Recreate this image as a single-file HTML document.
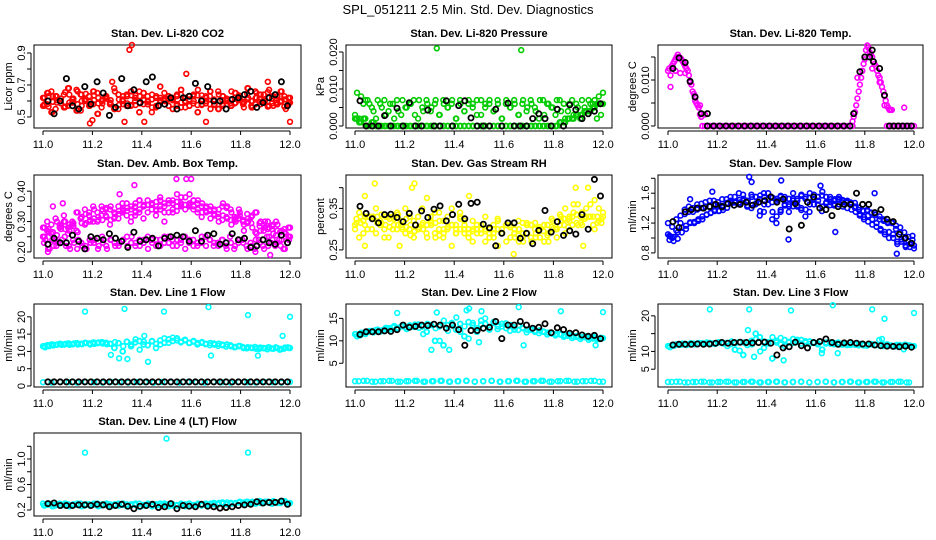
<!DOCTYPE html>
<html><head><meta charset="utf-8"><style>
body{margin:0;background:#fff}
svg{display:block;font-family:"Liberation Sans",sans-serif}
</style></head><body>
<svg id="chart" width="936" height="540" viewBox="0 0 936 540">
<text x="468" y="14" text-anchor="middle" font-size="13">SPL_051211  2.5 Min. Std. Dev. Diagnostics</text>
</svg>
<script>
// ---- data ----
const xTicks=[11.0,11.2,11.4,11.6,11.8,12.0];
const xTickLabels=["11.0","11.2","11.4","11.6","11.8","12.0"];
const panelTitles=["Stan. Dev. Li-820 CO2","Stan. Dev. Li-820 Pressure","Stan. Dev. Li-820 Temp.","Stan. Dev. Amb. Box Temp.","Stan. Dev. Gas Stream RH","Stan. Dev. Sample Flow","Stan. Dev. Line 1 Flow","Stan. Dev. Line 2 Flow","Stan. Dev. Line 3 Flow","Stan. Dev. Line 4 (LT) Flow"];
const yLabels=["Licor ppm","kPa","degrees C","degrees C","percent","ml/min","ml/min","ml/min","ml/min","ml/min"];

const co2A=[0.62,0.58,0.66,0.55,0.6,0.64,0.57,0.61,0.67,0.54,0.6,0.63,0.58,0.65,0.56,0.62,0.59,0.68,0.55,0.61,0.64,0.57,0.6,0.66,0.58,0.63,0.53,0.62,0.6,0.65,0.57,0.61,0.64,0.59,0.56,0.63,0.6,0.67,0.58,0.62,0.55,0.6,0.64,0.57,0.61,0.66,0.59,0.63,0.56,0.62,0.6,0.65,0.58,0.61,0.67,0.57,0.63,0.6,0.55,0.62];
const co2B=[0.57,0.65,0.53,0.63,0.6,0.56,0.68,0.59,0.54,0.64,0.61,0.57,0.66,0.52,0.6,0.63,0.58,0.55,0.64,0.6,0.57,0.66,0.62,0.53,0.65,0.58,0.61,0.56,0.69,0.6,0.63,0.55,0.58,0.67,0.62,0.57,0.64,0.53,0.61,0.6,0.66,0.58,0.55,0.63,0.6,0.57,0.65,0.61,0.59,0.68,0.56,0.62,0.64,0.6,0.57,0.63,0.58,0.66,0.61,0.59];
const co2OutX=[11.35,11.36,11.58,11.19,11.2,11.33,11.41,11.66,12.0,11.28,11.91];
const co2OutY=[0.92,0.95,0.77,0.46,0.48,0.47,0.47,0.47,0.47,0.72,0.72];
const co2Black=[0.6,0.52,0.6,0.74,0.57,0.55,0.69,0.58,0.72,0.65,0.51,0.56,0.74,0.57,0.67,0.59,0.72,0.75,0.57,0.58,0.62,0.55,0.62,0.63,0.71,0.6,0.69,0.6,0.6,0.55,0.61,0.62,0.64,0.66,0.56,0.59,0.62,0.64,0.72,0.57];

const presHigh=[0.003,0.002,0.006,0.007,0.005,0.002,0.006,0.007,0.004,0.006,0.007,0.003,0.005,0.006,0.007,0.002,0.005,0.007,0.004,0.006,0.003,0.007,0.005,0.006,0.002,0.007,0.004,0.006,0.005,0.007,0.003,0.006,0.007,0.004,0.006,0.002,0.007,0.005,0.006,0.003,0.007,0.005,0.006,0.004,0.007,0.003,0.006,0.005,0.007,0.004,0.002,0.006,0.003,0.005,0.007,0.004,0.006,0.007,0.008,0.009];
const presLow=[0.002,0.001,0.002,0,0.001,0,0,0,0,0,0,0,0,0,0,0,0,0,0,0,0,0,0,0,0,0,0,0,0,0,0,0,0,0,0,0,0,0,0,0,0,0,0,0,0,0,0,0,0,0.001,0.001,0.002,0.002,0.003,0.003,0.004,0.004,0.005,0.006,0.006];
const presOutX=[11.33,11.67];
const presOutY=[0.021,0.0205];
const presBlack=[0.0068,0,0,0,0.0028,0,0.0048,0,0.0063,0,0,0.0043,0,0,0.0068,0,0.0055,0.0068,0.0022,0,0,0,0.0045,0,0.0062,0,0,0,0.002,0.0033,0.002,0,0.0045,0,0.0057,0.0044,0.002,0.0033,0.004,0.006];

const tempX=[11.0,11.005,11.01,11.015,11.02,11.025,11.03,11.035,11.04,11.045,11.05,11.055,11.06,11.065,11.07,11.075,11.08,11.085,11.09,11.095,11.1,11.105,11.11,11.115,11.12,11.125,11.13,11.135,11.01,11.03,11.05,11.07,11.09,11.11,11.13,11.15,11.75,11.755,11.76,11.765,11.77,11.775,11.78,11.785,11.79,11.795,11.8,11.805,11.81,11.815,11.82,11.825,11.83,11.835,11.84,11.845,11.85,11.855,11.86,11.865,11.87,11.875,11.88,11.885,11.89,11.895,11.9,11.905,11.91,11.96,11.77,11.8,11.83,11.86,11.88];
const tempY=[0.012,0.0125,0.011,0.013,0.0135,0.014,0.0145,0.015,0.0155,0.015,0.0148,0.0145,0.014,0.0135,0.013,0.0125,0.012,0.011,0.0095,0.009,0.0075,0.007,0.0065,0.005,0.0045,0.004,0.0025,0.002,0.0085,0.012,0.0115,0.0115,0.0095,0.0055,0.0045,0.0025,0.001,0.002,0.003,0.0045,0.006,0.0075,0.009,0.0105,0.012,0.0135,0.015,0.0165,0.0175,0.017,0.016,0.0155,0.015,0.014,0.0135,0.013,0.012,0.011,0.0105,0.0095,0.0085,0.0075,0.0065,0.0055,0.0045,0.004,0.0035,0.0035,0.0035,0.004,0.0105,0.0145,0.0125,0.0095,0.0045];
const tempZeroA=[0,0,0,0,0,0,0,0,0,0,0,0,0,0,0,0,0,0,0,0,0,0,0,0,0,0,0,0,0,0,0,0,0,0,0,0,0,0,0,0,0,0,0,0,0,0,0,0,0,0,0,0,0,0,0,0,0,0,0,0];
const tempZeroB=[0,0,0,0,0,0,0,0,0,0,0,0];
const tempBlackX=[11.02,11.045,11.07,11.09,11.11,11.135,11.16,11.755,11.78,11.8,11.82,11.83,11.835,11.86,11.88];
const tempBlackY=[0.0125,0.0148,0.0138,0.0097,0.0063,0.0027,0.0027,0.0027,0.0118,0.015,0.015,0.0165,0.014,0.0125,0.0067];
const tempBlackZeroA=[0,0,0,0,0,0,0,0,0,0,0,0,0,0,0,0,0,0,0,0,0,0,0,0];
const tempBlackZeroB=[0,0,0,0,0,0];

const ambA=[0.28,0.3,0.26,0.31,0.29,0.32,0.28,0.3,0.33,0.31,0.34,0.32,0.3,0.33,0.35,0.32,0.34,0.31,0.35,0.33,0.36,0.34,0.32,0.37,0.35,0.33,0.36,0.34,0.38,0.35,0.37,0.36,0.39,0.35,0.38,0.36,0.37,0.34,0.36,0.33,0.35,0.32,0.34,0.36,0.31,0.33,0.3,0.32,0.29,0.31,0.28,0.33,0.27,0.3,0.28,0.26,0.29,0.27,0.25,0.28];
const ambB=[0.25,0.27,0.29,0.24,0.28,0.3,0.26,0.29,0.27,0.31,0.29,0.33,0.35,0.3,0.32,0.34,0.29,0.33,0.31,0.36,0.32,0.3,0.35,0.33,0.31,0.37,0.34,0.32,0.35,0.3,0.36,0.33,0.35,0.38,0.34,0.39,0.35,0.37,0.33,0.35,0.31,0.34,0.3,0.32,0.35,0.29,0.31,0.33,0.27,0.3,0.32,0.26,0.3,0.28,0.25,0.29,0.27,0.24,0.26,0.25];
const ambLow=[0.23,0.21,0.24,0.22,0.23,0.25,0.22,0.24,0.21,0.23,0.22,0.24,0.23,0.21,0.25,0.22,0.24,0.23,0.22,0.24,0.25,0.23,0.22,0.24,0.23,0.25,0.24,0.22,0.24,0.23,0.25,0.22,0.24,0.23,0.21,0.24,0.22,0.23,0.25,0.22,0.24,0.23,0.22,0.24,0.21,0.23,0.22,0.24,0.23,0.21,0.22,0.24,0.23,0.21,0.22,0.24,0.23,0.22,0.21,0.24];
const ambOutX=[11.54,11.58,11.6,11.37,11.92,11.02,11.86,11.04,11.08,11.31];
const ambOutY=[0.44,0.44,0.44,0.42,0.19,0.2,0.2,0.35,0.36,0.39];
const ambBlack=[0.225,0.245,0.23,0.23,0.255,0.235,0.21,0.25,0.245,0.24,0.26,0.245,0.235,0.215,0.265,0.235,0.24,0.245,0.22,0.245,0.25,0.255,0.25,0.235,0.27,0.235,0.255,0.26,0.225,0.23,0.26,0.24,0.245,0.215,0.22,0.24,0.23,0.225,0.255,0.23];

const rhA=[0.31,0.34,0.29,0.33,0.3,0.35,0.31,0.28,0.33,0.3,0.34,0.31,0.29,0.33,0.32,0.3,0.35,0.31,0.33,0.29,0.34,0.32,0.3,0.35,0.31,0.33,0.3,0.28,0.32,0.29,0.31,0.27,0.3,0.28,0.32,0.29,0.27,0.31,0.28,0.3,0.27,0.29,0.31,0.28,0.3,0.27,0.29,0.32,0.3,0.33,0.35,0.32,0.34,0.36,0.31,0.35,0.33,0.37,0.32,0.34];
const rhB=[0.3,0.28,0.32,0.3,0.33,0.29,0.32,0.3,0.28,0.33,0.3,0.32,0.35,0.3,0.28,0.33,0.31,0.29,0.32,0.34,0.3,0.28,0.33,0.31,0.29,0.34,0.32,0.3,0.27,0.31,0.29,0.33,0.28,0.3,0.26,0.29,0.31,0.28,0.3,0.27,0.29,0.31,0.27,0.29,0.28,0.31,0.27,0.3,0.28,0.32,0.29,0.33,0.36,0.31,0.34,0.33,0.36,0.3,0.35,0.33];
const rhOutX=[11.08,11.24,11.23,11.04,11.18,11.39,11.64,11.92,11.89,11.94,11.46,11.04,11.29];
const rhOutY=[0.41,0.41,0.4,0.26,0.26,0.26,0.24,0.26,0.4,0.4,0.38,0.38,0.375];
const rhBlack=[0.355,0.338,0.325,0.315,0.335,0.336,0.328,0.318,0.338,0.31,0.344,0.328,0.348,0.356,0.32,0.335,0.36,0.325,0.362,0.365,0.312,0.303,0.26,0.29,0.315,0.315,0.278,0.29,0.265,0.297,0.345,0.293,0.318,0.285,0.296,0.288,0.335,0.3,0.42,0.38];

const flowA=[1.05,1.15,1.25,1.3,1.38,1.42,1.35,1.45,1.4,1.48,1.42,1.5,1.44,1.52,1.46,1.5,1.55,1.45,1.58,1.48,1.4,1.55,1.3,1.6,1.45,1.25,1.5,1.35,1.55,1.45,1.6,1.5,1.4,1.55,1.45,1.58,1.5,1.42,1.55,1.48,1.52,1.45,1.5,1.4,1.45,1.35,1.3,1.28,1.22,1.25,1.15,1.1,1.05,1.08,1.0,0.95,0.98,0.9,0.88,0.9];
const flowB=[1.2,1.0,1.1,1.2,1.32,1.35,1.4,1.38,1.46,1.42,1.5,1.45,1.48,1.43,1.52,1.55,1.48,1.6,1.5,1.42,1.58,1.45,1.52,1.35,1.6,1.48,1.2,1.55,1.45,1.35,1.5,1.42,1.58,1.38,1.6,1.45,1.55,1.62,1.48,1.52,1.45,1.55,1.42,1.5,1.38,1.42,1.32,1.25,1.3,1.18,1.2,1.12,1.08,1.0,1.05,0.92,0.95,0.88,0.92,0.86];
const flowOutX=[11.33,11.34,11.46,11.49,11.84,11.93,11.18,11.62,11.68,11.01,11.09];
const flowOutY=[1.82,1.75,1.77,0.98,1.6,0.79,1.62,1.7,1.08,1.02,1.52];
const flowBlack=[1.22,1.14,1.35,1.38,1.4,1.4,1.42,1.45,1.42,1.46,1.44,1.45,1.48,1.44,1.48,1.5,1.55,1.48,1.52,1.12,1.46,1.17,1.48,1.55,1.4,1.38,1.3,1.42,1.45,1.45,1.6,1.45,1.45,1.34,1.38,1.25,1.22,1.05,1.0,0.93];

const l1A=[11.5,11.8,12,11.9,12.2,12,12.3,12.1,12.4,12.2,12.5,12.3,12.6,12.4,12.7,12.5,12.2,11,12.4,10,12.8,11.5,12.6,13,12,11.8,12.9,11,13.2,12.5,13.5,13,13.8,12.8,13.2,12.5,13,12.4,12.7,12.2,12.4,12,12.2,11.8,12,11.5,11.3,11.6,11,11.2,11,10.8,11.1,10.9,11.2,10.8,11,10.7,11.1,11];
const l1B=[11.2,11.5,11.7,12,11.9,12.2,11.9,12.3,12,12.1,12.4,12,12.2,12.6,12.3,12.1,9,12.7,8,11.5,7.8,12,13.5,10.5,12.8,7,13,12.2,12,13.8,12.5,14,13.2,12.6,13.4,12.4,12.8,12,12.5,12.1,11.8,12.3,11.6,12,11.4,11.8,11.2,11.5,11.3,10.9,11.1,11.3,10.7,11,10.6,10.9,11.2,10.5,10.8,11.2];
const l1OutX=[11.17,11.33,11.49,11.67,11.83,12.0,11.97,11.41,11.68,11.87];
const l1OutY=[21.5,22.3,21.5,22.8,20.5,20,14.5,14.5,8.8,8.8];
const l1Low=[1.1,1.0,1.2,1.1,1.0,1.2,1.1,1.0,1.2,1.1,1.0,1.2,1.1,1.0,1.2,1.1,1.0,1.2,1.1,1.0,1.2,1.1,1.0,1.2,1.1,1.0,1.2,1.1,1.0,1.2];
const l1Black=[1.2,1.2,1.2,1.2,1.2,1.2,1.2,1.2,1.2,1.2,1.2,1.2,1.2,1.2,1.2,1.2,1.2,1.2,1.2,1.2,1.2,1.2,1.2,1.2,1.2,1.2,1.2,1.2,1.2,1.2,1.2,1.2,1.2,1.2,1.2,1.2,1.2,1.2,1.2,1.2];

const l2A=[11.5,11.2,11.8,12,12.2,12.4,12.1,12.6,12.8,13,12.7,13.2,13,13.4,13.1,13.6,13.2,12,13.5,10,13.2,9,13.5,14,12.5,13.8,11,14.2,13.5,12,14.5,13.8,12.5,14,13.2,13.8,12.8,13.5,12.5,13.4,12.8,12.5,12.6,12.2,12.3,12,11.8,11.6,11.5,11.4,11.2,11.3,11,11.1,10.8,11,10.6,10.8,10.4,10.6];
const l2B=[11,11.8,11.5,12.2,11.9,12.5,12.3,12.9,12.5,13.3,12.9,13.5,12.6,13.1,13.6,12.9,11.5,13.8,8,12.8,10,14.5,12.2,13.6,15.2,12,13.2,10.5,14,12.8,13.6,15,13,14.2,12.6,13.2,13.9,12.2,13,12.4,12.9,11.9,12.4,12,11.7,12.1,11.4,11.7,11.2,11.5,10.9,11.1,10.6,10.9,10.4,10.8,10.2,10.5,10.3,10.7];
const l2OutX=[11.17,11.33,11.45,11.46,11.51,11.66,11.83,12.0,11.68,11.38,11.97,11.5];
const l2OutY=[16.2,16.3,16.8,17.2,16.6,17.5,16.6,16.4,9,8,9,9.7];
const l2Low=[1.0,1.1,0.9,1.0,1.1,0.9,1.0,1.1,0.9,1.0,1.1,0.9,1.0,1.1,0.9,1.0,1.1,0.9,1.0,1.1,0.9,1.0,1.1,0.9,1.0,1.1,0.9,1.0,1.1,0.9];
const l2Black=[11.4,12,12,12,12.2,12.1,12.5,13.5,13,13.2,13.5,13.4,13.7,13.5,12.8,13.5,12.5,9,12.3,12.3,12.8,13,14.3,10.5,13.5,13.5,14.3,13.5,12.8,13,13.8,11.8,12.9,12.5,11.7,11.8,11.3,11,11.2,10.5];

const l3A=[11.5,11.8,12,11.9,12.1,12,12.2,12.1,12.3,12.2,12.4,12.2,12.5,12.3,12.4,12.1,10.5,12.6,9,11.8,13,15,14,11,12.6,8,13,12,13.2,12.5,13.5,12.8,13.2,12.5,12.8,12.4,12,10.5,12.5,12.2,12.3,12,12.2,11.8,12,11.9,12.1,11.7,11.9,12,11.8,11.6,11.9,11.7,11.5,11.8,11.6,11.9,11.7,11.5];
const l3B=[11.2,11.6,11.9,12.2,11.8,12.3,12,12.4,12.1,12.5,12.3,12.1,12.6,12.2,11.5,12.8,12.3,10.2,12.5,16,12,13.5,10,12.8,12.2,14,12.5,13.8,11.5,12.7,12.4,13.3,12.2,12.9,12.1,12.6,12.3,9.5,12.2,12.4,12,12.5,11.9,12.2,11.8,12.1,11.7,12,11.6,12.1,11.8,13.2,11.5,12,11.7,11.4,11.8,10.6,11.6,11.4];
const l3OutX=[11.17,11.33,11.5,11.67,11.83,11.88,12.0,11.87,11.35,11.47,11.69];
const l3OutY=[21.8,21.8,21.5,23,21.8,19.2,20.8,13.5,8.5,7.5,9.5];
const l3Low=[1.4,1.5,1.3,1.4,1.5,1.3,1.4,1.5,1.3,1.4,1.5,1.3,1.4,1.5,1.3,1.4,1.5,1.3,1.4,1.5,1.3,1.4,1.5,1.3,1.4,1.5,1.3,1.4,1.5,1.3];
const l3Black=[11.8,12,12,12,12.1,12,12.1,12.3,12.5,12.3,12.5,12.6,12.5,12.4,12.5,12.6,12.3,9,11,11.3,12.6,11.6,11,12.5,12.8,13.5,12.5,12,12.4,12.5,12.3,12.1,12.1,11.8,11.6,11.5,11.4,11.3,11.5,11.2];

const l4A=[0.3,0.28,0.29,0.27,0.3,0.28,0.29,0.27,0.28,0.3,0.27,0.29,0.28,0.3,0.27,0.28,0.29,0.27,0.3,0.28,0.29,0.27,0.28,0.3,0.27,0.29,0.28,0.27,0.3,0.28,0.29,0.27,0.28,0.3,0.29,0.27,0.28,0.3,0.29,0.28,0.3,0.29,0.31,0.3,0.32,0.3,0.31,0.33,0.32,0.3,0.33,0.32,0.31,0.33,0.32,0.34,0.31,0.33,0.32,0.31];
const l4B=[0.27,0.3,0.26,0.29,0.27,0.3,0.26,0.29,0.3,0.26,0.29,0.27,0.3,0.26,0.29,0.3,0.26,0.29,0.27,0.3,0.26,0.29,0.3,0.25,0.28,0.3,0.26,0.29,0.27,0.3,0.26,0.29,0.27,0.28,0.26,0.3,0.27,0.28,0.27,0.3,0.28,0.31,0.29,0.32,0.29,0.31,0.3,0.32,0.3,0.33,0.31,0.3,0.34,0.31,0.33,0.3,0.32,0.31,0.34,0.3];
const l4OutX=[11.17,11.5,11.83];
const l4OutY=[1.1,1.32,1.1];
const l4Black=[0.3,0.31,0.27,0.27,0.27,0.28,0.28,0.27,0.29,0.28,0.25,0.27,0.29,0.26,0.22,0.26,0.27,0.29,0.24,0.25,0.3,0.22,0.27,0.26,0.25,0.29,0.26,0.25,0.23,0.24,0.25,0.27,0.28,0.29,0.33,0.31,0.32,0.32,0.34,0.29];

// y ticks
const yTicks=[[0.5,0.6,0.7,0.8,0.9],[0,0.005,0.01,0.015,0.02],[0,0.005,0.01,0.015],[0.2,0.25,0.3,0.35,0.4],[0.25,0.3,0.35,0.4],[0.8,1.0,1.2,1.4,1.6,1.8],[0,5,10,15,20],[5,10,15],[5,10,15,20],[0.2,0.4,0.6,0.8,1.0,1.2]];
const yTickLabels=[["0.5","","0.7","","0.9"],["0.000","","0.010","","0.020"],["0.000","","0.010",""],["0.20","","0.30","","0.40"],["0.25","","0.35",""],["0.8","","1.2","","1.6",""],["0","5","10","15","20"],["5","10","15"],["5","10","","20"],["0.2","","0.6","","1.0",""]];
const yDomains=[[0.431,0.95],[-0.00054,0.02189],[-0.000435,0.01761],[0.18,0.4533],[0.2305,0.4305],[0.732,1.844],[-0.286,23.71],[-0.29,18.2],[0,23.33],[0.106,1.408]];

// ---- layout ----
const NS="http://www.w3.org/2000/svg";
const svg=document.getElementById('chart');
const cols=[{l:34,r:301,x0:43,x1:290},{l:346,r:612,x0:355,x1:603},{l:658,r:923,x0:668,x1:914}];
const rows=[45,175,304,433];
const BH=83;
function mk(tag,attrs,parent){const e=document.createElementNS(NS,tag);for(const k in attrs)e.setAttribute(k,attrs[k]);(parent||svg).appendChild(e);return e;}

const panels=[];
for(let p=0;p<10;p++){
  const c=cols[p%3],top=rows[Math.floor(p/3)],bot=top+BH;
  const g=mk('g',{});
  
  
  const dom=yDomains[p];
  const sx=v=>c.x0+(v-11)*(c.x1-c.x0);
  const sy=v=>bot-(v-dom[0])/(dom[1]-dom[0])*BH;
  panels.push({g,sx,sy,c,top,bot});
  const t=mk('text',{x:(c.l+c.r)/2,y:top-8,'text-anchor':'middle','font-size':'11','font-weight':'bold'},g);
  t.textContent=panelTitles[p];
  
  
  const box=mk('rect',{x:c.l,y:top,width:c.r-c.l,height:BH,fill:'none',stroke:'#000','stroke-width':1},g);
  
  
  const yl=mk('text',{x:0,y:0,'text-anchor':'middle','font-size':'11',transform:`translate(${c.l-22},${(top+bot)/2}) rotate(-90)`},g);
  yl.textContent=yLabels[p];
  
  
  // x axis
  const xa=mk('g',{},g);
  
  
  mk('line',{x1:sx(xTicks[0]),x2:sx(xTicks[xTicks.length-1]),y1:bot+3,y2:bot+3,stroke:'#000'},xa);
  xTicks.forEach((v,i)=>{
    mk('line',{x1:sx(v),x2:sx(v),y1:bot+3,y2:bot+7,stroke:'#000'},xa);
    const tl=mk('text',{x:sx(v),y:bot+20,'text-anchor':'middle','font-size':'11'},xa);
    tl.textContent=xTickLabels[i];
    
    
  });
  // y axis
  const ya=mk('g',{},g);
  
  
  const yt=yTicks[p];
  mk('line',{x1:c.l-3,x2:c.l-3,y1:sy(yt[0]),y2:sy(yt[yt.length-1]),stroke:'#000'},ya);
  yt.forEach((v,i)=>{
    mk('line',{x1:c.l-7,x2:c.l-3,y1:sy(v),y2:sy(v),stroke:'#000'},ya);
    if(yTickLabels[p][i]){
      const tl=mk('text',{x:0,y:0,'text-anchor':'middle','font-size':'11',transform:`translate(${c.l-9},${sy(v)}) rotate(-90)`},ya);
      tl.textContent=yTickLabels[p][i];
      
      
    }
  });
}

function even(ys,a,b){return ys.map((_,i)=>a+(b-a)*i/(ys.length-1));}
function pts(p,xs,ys,color,name,black){
  const P=panels[p];
  const g=mk('g',{fill:'none',stroke:color,'stroke-width':black?1.8:1.6},P.g);
  
  
  ys.forEach((v,i)=>{
    const c=mk('circle',{cx:P.sx(xs[i]).toFixed(1),cy:P.sy(v).toFixed(1),r:black?2.6:2.4},g);
    
    
  });
}
function cloud(p,ys,color,name){
  pts(p,even(ys,11.0,12.0),ys,color,name);
  pts(p,even(ys,11.006,11.994),ys.slice().reverse().map((v,i)=>ys[i]*0.5+v*0.5),color,name);
}
const R='#ff0000',G='#00cc00',M='#ff00ff',Y='#ffff00',B='#0000ff',C='#00ffff',K='#000';
// P1
cloud(0,co2A,R,'co2-series');
cloud(0,co2B,R,'co2-series');
pts(0,even(co2B,11.004,11.996),co2B,R,'co2-series');
pts(0,co2OutX,co2OutY,R,'co2-outliers');
pts(0,even(co2Black,11.02,11.99),co2Black,K,'co2-black-series',1);
// P2
pts(1,even(presLow,11.0,12.0),presLow,G,'pressure-low');
pts(1,even(presLow,11.008,11.992),presLow,G,'pressure-low');
pts(1,even(presLow,11.004,11.996),presLow,G,'pressure-low');
pts(1,even(presHigh,11.0,12.0),presHigh,G,'pressure-series');
pts(1,even(presHigh,11.008,11.992),presHigh.slice().reverse(),G,'pressure-series');
pts(1,presOutX,presOutY,G,'pressure-outliers');
pts(1,even(presBlack,11.02,11.99),presBlack,K,'pressure-black-series',1);
// P3
pts(2,tempX,tempY,M,'temp-series');
pts(2,even(tempZeroA,11.14,11.75),tempZeroA,M,'temp-zero');
pts(2,even(tempZeroB,11.89,12.0),tempZeroB,M,'temp-zero');
pts(2,tempBlackX,tempBlackY,K,'temp-black-series',1);
pts(2,even(tempBlackZeroA,11.16,11.74),tempBlackZeroA,K,'temp-black-zero',1);
pts(2,even(tempBlackZeroB,11.9,11.99),tempBlackZeroB,K,'temp-black-zero',1);
// P4
cloud(3,ambA,M,'amb-series');
cloud(3,ambB,M,'amb-series');
pts(3,even(ambLow,11.004,11.996),ambLow,M,'amb-low');
pts(3,even(ambLow,11.01,11.99),ambLow.slice().reverse(),M,'amb-low');
pts(3,ambOutX,ambOutY,M,'amb-outliers');
pts(3,even(ambBlack,11.02,11.99),ambBlack,K,'amb-black-series',1);
// P5
cloud(4,rhA,Y,'rh-series');
cloud(4,rhB,Y,'rh-series');
pts(4,rhOutX,rhOutY,Y,'rh-outliers');
pts(4,even(rhBlack,11.02,11.99),rhBlack,K,'rh-black-series',1);
// P6
cloud(5,flowA,B,'flow-series');
cloud(5,flowB,B,'flow-series');
pts(5,flowOutX,flowOutY,B,'flow-outliers');
pts(5,even(flowBlack,11.02,11.99),flowBlack,K,'flow-black-series',1);
// P7
pts(6,even(l1A,11.0,12.0),l1A,C,'line1-series');
pts(6,even(l1B,11.008,11.992),l1B,C,'line1-series');
pts(6,even(l1A,11.004,11.996),l1A,C,'line1-series');
pts(6,l1OutX,l1OutY,C,'line1-outliers');
pts(6,even(l1Low,11.0,12.0),l1Low,C,'line1-low');
pts(6,even(l1Black,11.02,11.99),l1Black,K,'line1-black-series',1);
// P8
pts(7,even(l2A,11.0,12.0),l2A,C,'line2-series');
pts(7,even(l2B,11.008,11.992),l2B,C,'line2-series');
pts(7,even(l2A,11.004,11.996),l2A,C,'line2-series');
pts(7,l2OutX,l2OutY,C,'line2-outliers');
pts(7,even(l2Low,11.0,12.0),l2Low,C,'line2-low');
pts(7,even(l2Low,11.015,11.985),l2Low,C,'line2-low');
pts(7,even(l2Black,11.02,11.99),l2Black,K,'line2-black-series',1);
// P9
pts(8,even(l3A,11.0,12.0),l3A,C,'line3-series');
pts(8,even(l3B,11.008,11.992),l3B,C,'line3-series');
pts(8,even(l3A,11.004,11.996),l3A,C,'line3-series');
pts(8,l3OutX,l3OutY,C,'line3-outliers');
pts(8,even(l3Low,11.0,11.98),l3Low,C,'line3-low');
pts(8,even(l3Low,11.015,11.97),l3Low,C,'line3-low');
pts(8,even(l3Black,11.02,11.99),l3Black,K,'line3-black-series',1);
// P10
pts(9,even(l4A,11.0,12.0),l4A,C,'line4-series');
pts(9,even(l4B,11.008,11.992),l4B,C,'line4-series');
pts(9,even(l4A,11.004,11.996),l4B,C,'line4-series');
pts(9,l4OutX,l4OutY,C,'line4-outliers');
pts(9,even(l4Black,11.02,11.99),l4Black,K,'line4-black-series',1);
</script>
</body></html>
